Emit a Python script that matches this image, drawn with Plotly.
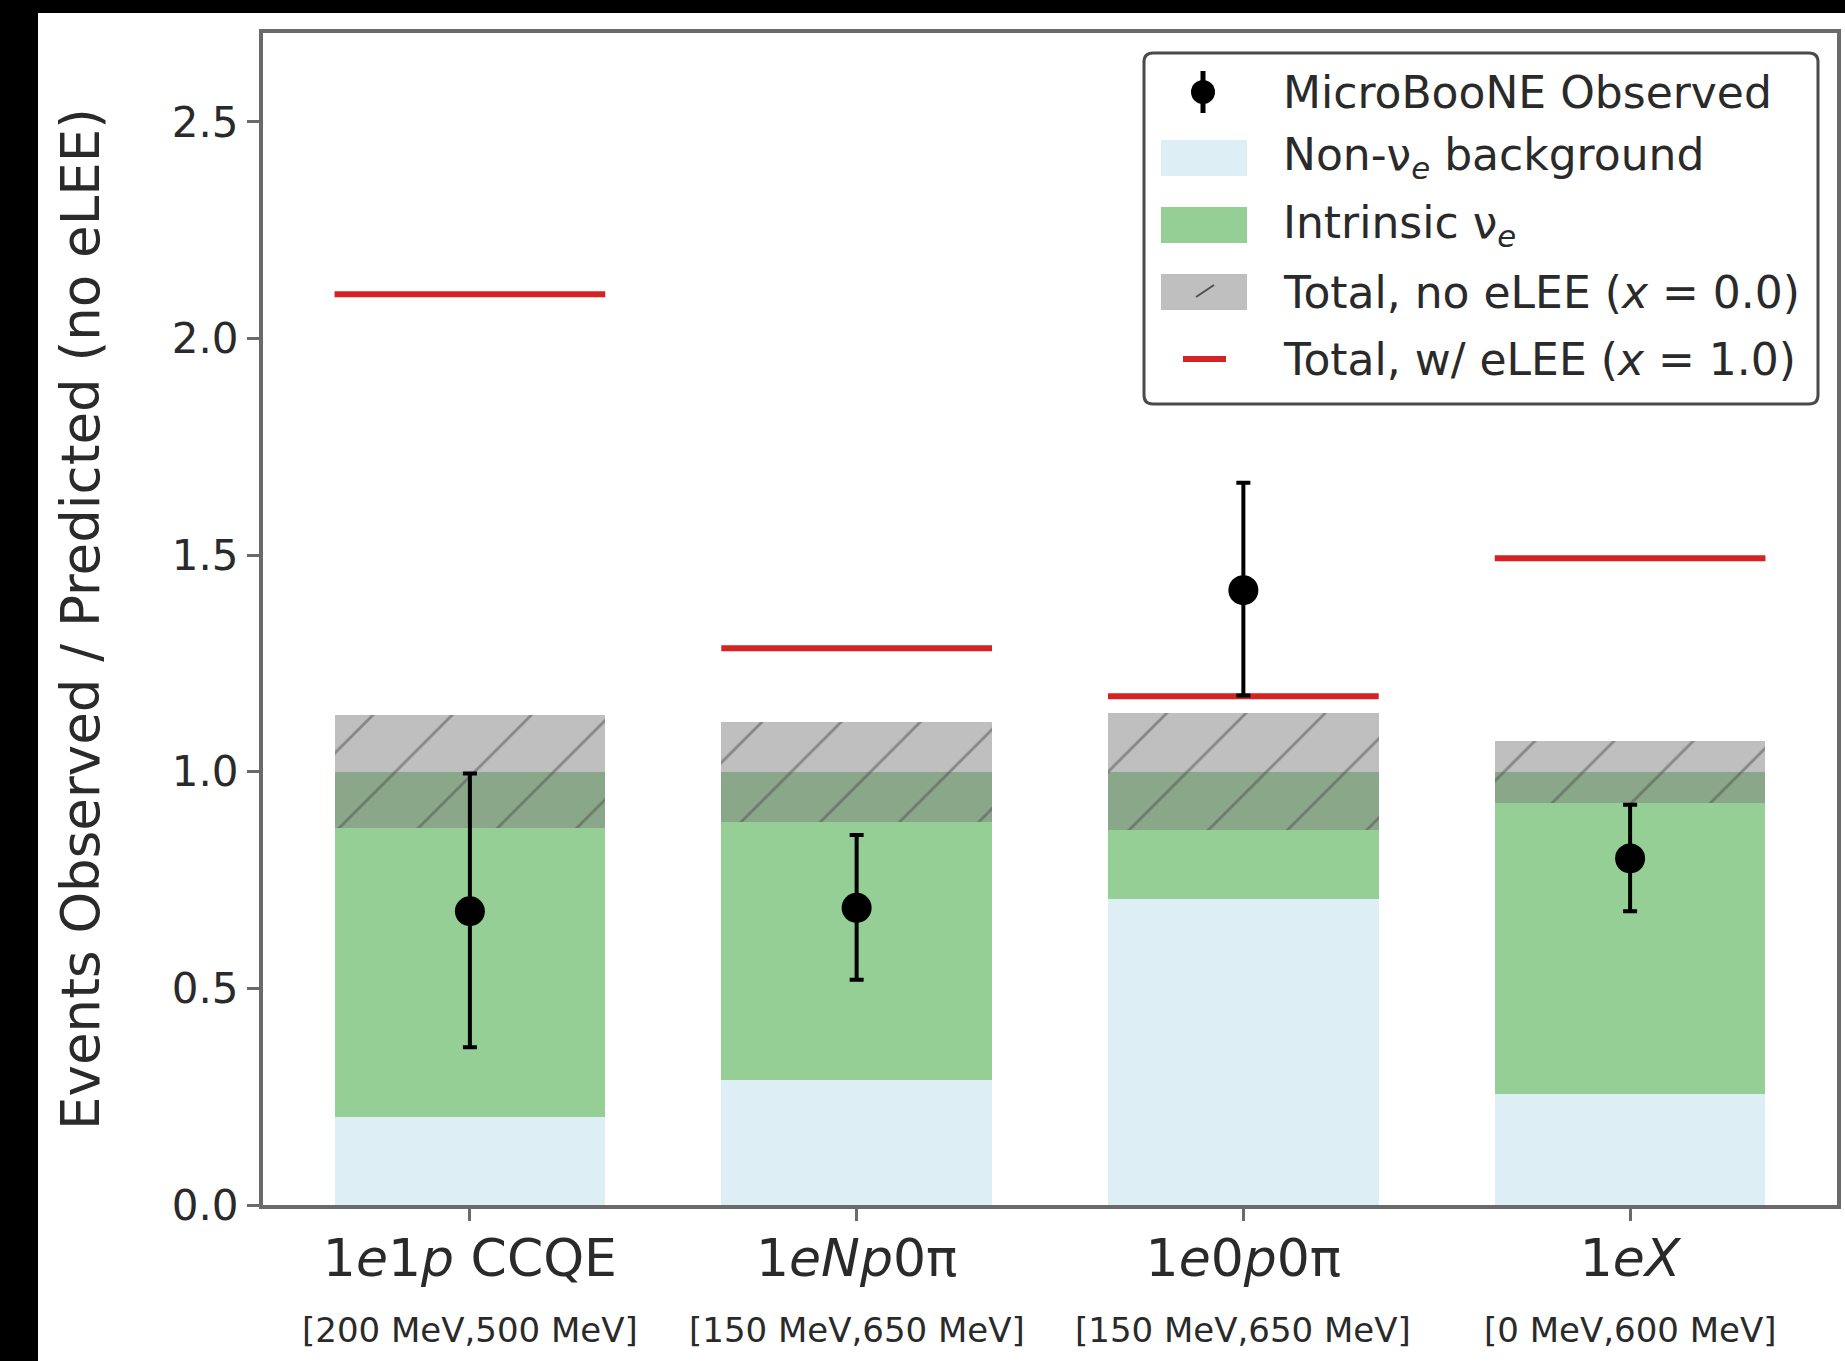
import plotly.graph_objects as go

# ---------------- data ----------------
categories = ["1<i>e</i>1<i>p</i> CCQE", "1<i>eNp</i>0π", "1<i>e</i>0<i>p</i>0π", "1<i>eX</i>"]
energy_ranges = ["[200 MeV,500 MeV]", "[150 MeV,650 MeV]", "[150 MeV,650 MeV]", "[0 MeV,600 MeV]"]
non_nue_bkg = [0.202, 0.289, 0.706, 0.256]
intrinsic_nue = [0.798, 0.711, 0.294, 0.744]
total_no_elee = [1.0, 1.0, 1.0, 1.0]
total_unc = [0.13, 0.115, 0.135, 0.072]
total_w_elee = [2.102, 1.285, 1.174, 1.493]
observed = [0.678, 0.686, 1.419, 0.800]
observed_err_up = [0.318, 0.168, 0.248, 0.124]
observed_err_dn = [0.314, 0.166, 0.243, 0.122]
ytick_vals = [0.0, 0.5, 1.0, 1.5, 2.0, 2.5]

legend_labels = ["MicroBooNE Observed", "Non-ν<sub><i>e</i></sub> background", "Intrinsic ν<sub><i>e</i></sub>",
                 "Total, no eLEE (<i>x</i> = 0.0)", "Total, w/ eLEE (<i>x</i> = 1.0)"]

# ---------------- styling ----------------
W, H = 1845, 1361
L, R, T, B = 263, 1837, 33, 1205
BAR_W = 0.7
FONT = "DejaVu Sans"
TXT = "#2a2a2a"
BLUE = "rgba(173,216,230,0.42)"
GREEN = "rgba(44,160,44,0.5)"
GRAY = "rgba(128,128,128,0.5)"
RED = "#d62222"

xpos = list(range(len(categories)))

fig = go.Figure()
fig.add_trace(go.Bar(x=xpos, y=non_nue_bkg, base=[0] * len(xpos), width=BAR_W,
                     marker=dict(color=BLUE, line=dict(width=0)), name="Non-νe background", showlegend=False))
fig.add_trace(go.Bar(x=xpos, y=intrinsic_nue, base=non_nue_bkg, width=BAR_W,
                     marker=dict(color=GREEN, line=dict(width=0)), name="Intrinsic νe", showlegend=False))
fig.add_trace(go.Bar(x=xpos, y=[2 * u for u in total_unc],
                     base=[t - u for t, u in zip(total_no_elee, total_unc)], width=BAR_W,
                     marker=dict(color=GRAY, line=dict(width=0),
                                 pattern=dict(shape="/", fillmode="overlay", fgcolor="#505050",
                                              size=56, solidity=0.05)),
                     name="Total, no eLEE", showlegend=False))

# eLEE red segments
rx, ry = [], []
for i, v in zip(xpos, total_w_elee):
    rx += [i - BAR_W / 2, i + BAR_W / 2, None]
    ry += [v, v, None]
fig.add_trace(go.Scatter(x=rx, y=ry, mode="lines", line=dict(color=RED, width=6),
                         name="Total, w/ eLEE", showlegend=False))

fig.add_trace(go.Scatter(x=xpos, y=observed, mode="markers",
                         marker=dict(color="black", size=30),
                         error_y=dict(type="data", symmetric=False, array=observed_err_up,
                                      arrayminus=observed_err_dn, color="black", thickness=4, width=7),
                         name="MicroBooNE Observed", showlegend=False))

fig.update_layout(
    width=W, height=H,
    margin=dict(l=L, r=W - R, t=T, b=H - B, autoexpand=False),
    paper_bgcolor="white", plot_bgcolor="white",
    barmode="overlay", bargap=0,
    font=dict(family=FONT, color=TXT),
    xaxis=dict(range=[-0.535, 3.535], tickmode="array", tickvals=xpos, ticktext=categories,
               tickfont=dict(size=52, color=TXT), showgrid=False, zeroline=False,
               showline=True, linecolor="#6a6a6a", linewidth=4, mirror=True,
               ticks="outside", ticklen=12, tickwidth=3, tickcolor="#6a6a6a",
               ticklabelstandoff=-7),
    yaxis=dict(range=[0, 2.705], tickmode="array", tickvals=ytick_vals,
               ticktext=[f"{v:.1f}" for v in ytick_vals],
               tickfont=dict(size=42, color=TXT), showgrid=False, zeroline=False,
               showline=True, linecolor="#6a6a6a", linewidth=4, mirror=True,
               ticks="outside", ticklen=12, tickwidth=3, tickcolor="#6a6a6a",
               title=dict(text="Events Observed / Predicted (no eLEE)", font=dict(size=53, color=TXT),
                          standoff=56)),
)

def px(x):
    return (x - L) / (R - L)

def py(y):
    return (B - y) / (B - T)

shapes = []
# black border strips of the reference image
shapes.append(dict(type="rect", xref="paper", yref="paper", x0=px(0), x1=px(38), y0=py(H), y1=py(0),
                   fillcolor="black", line=dict(width=0), layer="below"))
shapes.append(dict(type="rect", xref="paper", yref="paper", x0=px(0), x1=px(W), y0=py(13), y1=py(0),
                   fillcolor="black", line=dict(width=0), layer="below"))

# manual legend box (rounded)
lx0, lx1, ly0, ly1, r = 1144, 1818, 53, 404, 9
def P(x, y):
    return f"{px(x)},{py(y)}"
path = (f"M {P(lx0 + r, ly0)} L {P(lx1 - r, ly0)} Q {P(lx1, ly0)} {P(lx1, ly0 + r)} "
        f"L {P(lx1, ly1 - r)} Q {P(lx1, ly1)} {P(lx1 - r, ly1)} L {P(lx0 + r, ly1)} "
        f"Q {P(lx0, ly1)} {P(lx0, ly1 - r)} L {P(lx0, ly0 + r)} Q {P(lx0, ly0)} {P(lx0 + r, ly0)} Z")
shapes.append(dict(type="path", xref="paper", yref="paper", path=path, fillcolor="white",
                   line=dict(color="#4a4a4a", width=3), layer="above"))

rows = [92, 158, 225, 292, 359]
sym_cx = 1203
# observed symbol
shapes.append(dict(type="line", xref="paper", yref="paper", x0=px(sym_cx), x1=px(sym_cx),
                   y0=py(rows[0] - 21), y1=py(rows[0] + 21), line=dict(color="black", width=5), layer="above"))
shapes.append(dict(type="circle", xref="paper", yref="paper", x0=px(sym_cx - 12), x1=px(sym_cx + 12),
                   y0=py(rows[0] - 12), y1=py(rows[0] + 12), fillcolor="black", line=dict(width=0), layer="above"))
# patches
for row, col in [(rows[1], BLUE), (rows[2], GREEN), (rows[3], GRAY)]:
    shapes.append(dict(type="rect", xref="paper", yref="paper", x0=px(1161), x1=px(1247),
                       y0=py(row + 18), y1=py(row - 18), fillcolor=col, line=dict(width=0), layer="above"))
shapes.append(dict(type="line", xref="paper", yref="paper", x0=px(1196), x1=px(1214),
                   y0=py(rows[3] + 5), y1=py(rows[3] - 7), line=dict(color="#505050", width=2), layer="above"))
# red line symbol
shapes.append(dict(type="line", xref="paper", yref="paper", x0=px(1183), x1=px(1226),
                   y0=py(rows[4]), y1=py(rows[4]), line=dict(color=RED, width=6), layer="above"))
fig.update_layout(shapes=shapes)

ann = []
for row, lab in zip(rows, legend_labels):
    ann.append(dict(xref="paper", yref="paper", x=px(1281), y=py(row), text=lab, showarrow=False,
                    xanchor="left", yanchor="middle", font=dict(size=44, color=TXT, family=FONT)))
# energy-range sub labels under each category
for i, e in zip(xpos, energy_ranges):
    ann.append(dict(xref="x", yref="paper", x=i, y=py(1330), text=e, showarrow=False,
                    xanchor="center", yanchor="middle", font=dict(size=34, color=TXT, family=FONT)))
fig.update_layout(annotations=ann)

fig.write_html("out.html")
